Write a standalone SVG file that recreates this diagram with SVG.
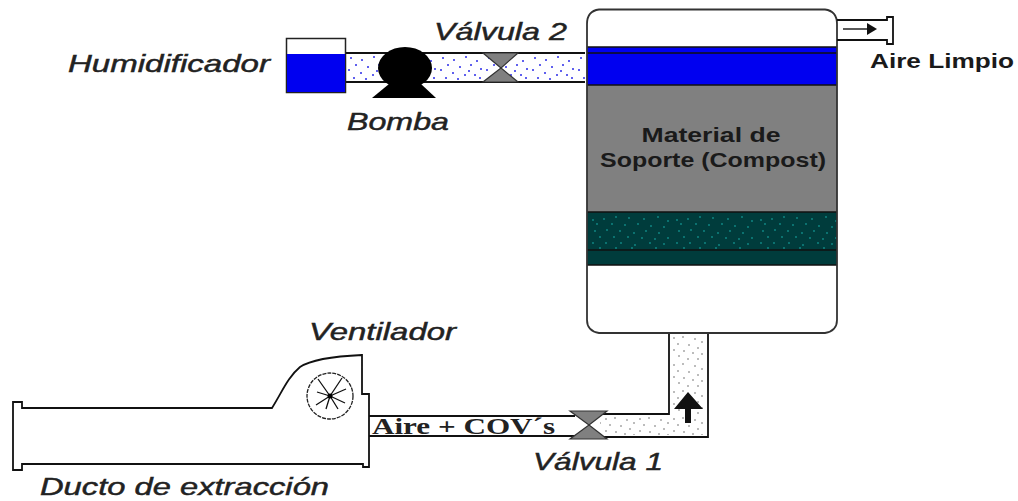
<svg xmlns="http://www.w3.org/2000/svg" width="1018" height="501" viewBox="0 0 1018 501">
<style>
.ln{stroke:#111;stroke-width:1.800;fill:none}
.valve{fill:#808080;stroke:#333;stroke-width:1.200}
.lab{font-family:"Liberation Sans",Arial,sans-serif;font-style:italic;font-size:24px;fill:#222;stroke:#222;stroke-width:0.450}
.b{font-family:"Liberation Sans",Arial,sans-serif;font-weight:bold;font-size:20px;fill:#1a1a1a}
</style>
<defs>
<pattern id="dotsBlue" width="46" height="27" patternUnits="userSpaceOnUse" x="346" y="55">
<g fill="#2a2ae8"><circle cx="5" cy="3" r="1"/><circle cx="16" cy="5" r="1"/><circle cx="28" cy="2" r="1"/><circle cx="39" cy="6" r="1"/><circle cx="10" cy="10" r="1"/><circle cx="22" cy="12" r="1"/><circle cx="33" cy="10" r="1"/><circle cx="43" cy="14" r="1"/><circle cx="3" cy="15" r="1"/><circle cx="15" cy="18" r="1"/><circle cx="27" cy="20" r="1"/><circle cx="37" cy="20" r="1"/><circle cx="8" cy="23" r="1"/><circle cx="20" cy="24" r="1"/><circle cx="31" cy="16" r="1"/><circle cx="42" cy="23" r="1"/></g>
</pattern>
<pattern id="dotsTeal" width="84" height="38" patternUnits="userSpaceOnUse" x="588" y="213">
<g fill="#0f8a88"><circle cx="5" cy="7" r="0.9"/><circle cx="16" cy="6" r="0.9"/><circle cx="28" cy="4" r="0.9"/><circle cx="41" cy="5" r="0.9"/><circle cx="56" cy="6" r="0.9"/><circle cx="70" cy="4" r="0.9"/><circle cx="80" cy="8" r="0.9"/><circle cx="9" cy="11" r="0.9"/><circle cx="24" cy="11" r="0.9"/><circle cx="37" cy="12" r="0.9"/><circle cx="50" cy="11" r="0.9"/><circle cx="63" cy="13" r="0.9"/><circle cx="76" cy="14" r="0.9"/><circle cx="7" cy="18" r="0.9"/><circle cx="19" cy="17" r="0.9"/><circle cx="32" cy="18" r="0.9"/><circle cx="46" cy="20" r="0.9"/><circle cx="58" cy="18" r="0.9"/><circle cx="71" cy="20" r="0.9"/><circle cx="12" cy="24" r="0.9"/><circle cx="26" cy="24" r="0.9"/><circle cx="40" cy="24" r="0.9"/><circle cx="54" cy="25" r="0.9"/><circle cx="67" cy="26" r="0.9"/><circle cx="80" cy="25" r="0.9"/><circle cx="5" cy="30" r="0.9"/><circle cx="18" cy="30" r="0.9"/><circle cx="33" cy="30" r="0.9"/><circle cx="47" cy="32" r="0.9"/><circle cx="62" cy="30" r="0.9"/><circle cx="76" cy="31" r="0.9"/><circle cx="12" cy="35" r="0.9"/><circle cx="28" cy="35" r="0.9"/><circle cx="44" cy="35" r="0.9"/><circle cx="68" cy="35" r="0.9"/></g>
</pattern>
<pattern id="dotsGray" width="34" height="27" patternUnits="userSpaceOnUse" x="671" y="335">
<g fill="#666"><circle cx="3" cy="3" r="0.8"/><circle cx="12" cy="2" r="0.8"/><circle cx="24" cy="4" r="0.8"/><circle cx="31" cy="7" r="0.8"/><circle cx="7" cy="9" r="0.8"/><circle cx="18" cy="10" r="0.8"/><circle cx="27" cy="13" r="0.8"/><circle cx="3" cy="15" r="0.8"/><circle cx="13" cy="16" r="0.8"/><circle cx="22" cy="18" r="0.8"/><circle cx="31" cy="19" r="0.8"/><circle cx="8" cy="21" r="0.8"/><circle cx="17" cy="24" r="0.8"/><circle cx="27" cy="24" r="0.8"/></g>
</pattern>
</defs>

<rect width="1018" height="501" fill="#fff"/>

<g id="connectors">
<rect x="346" y="55" width="239" height="26" fill="url(#dotsBlue)"/>
<path class="ln" d="M346 53H585M346 82H585"/>
<path d="M600 416H670V334H706V435H600Z" fill="url(#dotsGray)"/>
<path class="ln" d="M669 334V414H600M708 334V437H600"/>
<path class="ln" d="M369 416H575M369 436H575"/>
<path id="flow-up" d="M688 392L703 409H691V423H685V409H674Z" fill="#111"/>
</g>

<g id="humidificador">
<rect x="286.500" y="38.500" width="59" height="54" fill="#fff" stroke="#222" stroke-width="1.500"/>
<rect x="287" y="54" width="58" height="38" fill="#0000f0"/>
<text class="lab" x="68" y="72" textLength="202" lengthAdjust="spacingAndGlyphs">Humidificador</text>
</g>

<g id="bomba">
<ellipse cx="405" cy="68" rx="27" ry="21" fill="#000"/>
<path d="M389 84H421L436 98H372Z" fill="#000"/>
<text class="lab" x="347" y="130" textLength="102" lengthAdjust="spacingAndGlyphs">Bomba</text>
</g>

<g id="valvula2">
<path class="valve" d="M483 53H518L501 68L518 82H483L501 68Z"/>
<text class="lab" x="434" y="40" textLength="133" lengthAdjust="spacingAndGlyphs">Válvula 2</text>
</g>

<g id="biofiltro">
<path d="M599 9.500H825Q837 11 837 24V320Q837 331 825 333H599Q587 331 587 320V24Q587 11 599 9.500Z" fill="#fff"/>
<rect x="587" y="47" width="250" height="38" fill="#0000f0"/>
<rect x="587" y="85" width="250" height="127" fill="#808080"/>
<rect x="587" y="212" width="250" height="53" fill="#003c3c"/>
<rect x="587" y="212" width="250" height="38" fill="url(#dotsTeal)"/>
<path d="M587 47H837M587 53H837M587 85H837M587 212H837M587 250H837M587 265H837" stroke="#111" stroke-width="1.300" fill="none"/>
<path d="M599 9.500H825Q837 11 837 24V320Q837 331 825 333H599Q587 331 587 320V24Q587 11 599 9.500Z" fill="none" stroke="#333" stroke-width="1.800"/>
<text class="b" x="711" y="142" text-anchor="middle" textLength="139" lengthAdjust="spacingAndGlyphs">Material de</text>
<text class="b" x="713" y="167" text-anchor="middle" textLength="226" lengthAdjust="spacingAndGlyphs">Soporte (Compost)</text>
</g>

<g id="salida">
<path class="ln" d="M837 20H887V17H893V44H887V40H837"/>
<path d="M843 29H868" stroke="#111" stroke-width="1.400"/>
<path d="M877 29L867 23V35Z" fill="#111"/>
<text class="b" x="870" y="68" textLength="144" lengthAdjust="spacingAndGlyphs">Aire Limpio</text>
</g>

<g id="ventilador">
<path class="ln" d="M13 402H22V408H272C282 392 288 377 300 367C312 359 340 356 362 355V394H369V467H363V464H22V470H13Z"/>
<circle cx="330" cy="396" r="23" fill="none" stroke="#222" stroke-width="1.300" stroke-dasharray="4 1"/>
<path d="M330 396L318 379M330 396L342 378M330 396L317 392M330 396L346 389M330 396L316 405M330 396L345 403M330 396L326 409M330 396L338 409" stroke="#111" stroke-width="1.300" fill="none"/>
<circle cx="330" cy="396" r="2.500" fill="#000"/>
<text class="lab" x="309" y="340" textLength="147" lengthAdjust="spacingAndGlyphs">Ventilador</text>
<text class="lab" x="40" y="495" textLength="289" lengthAdjust="spacingAndGlyphs">Ducto de extracción</text>
</g>

<g id="valvula1">
<path class="valve" d="M570 411H607L589 425L607 439H570L589 425Z"/>
<text class="lab" x="533" y="470" textLength="130" lengthAdjust="spacingAndGlyphs">Válvula 1</text>
</g>

<text x="372" y="434" font-family="'Liberation Serif','Times New Roman',serif" font-weight="bold" font-size="24" fill="#222" textLength="183" lengthAdjust="spacingAndGlyphs">Aire + COV´s</text>
</svg>
